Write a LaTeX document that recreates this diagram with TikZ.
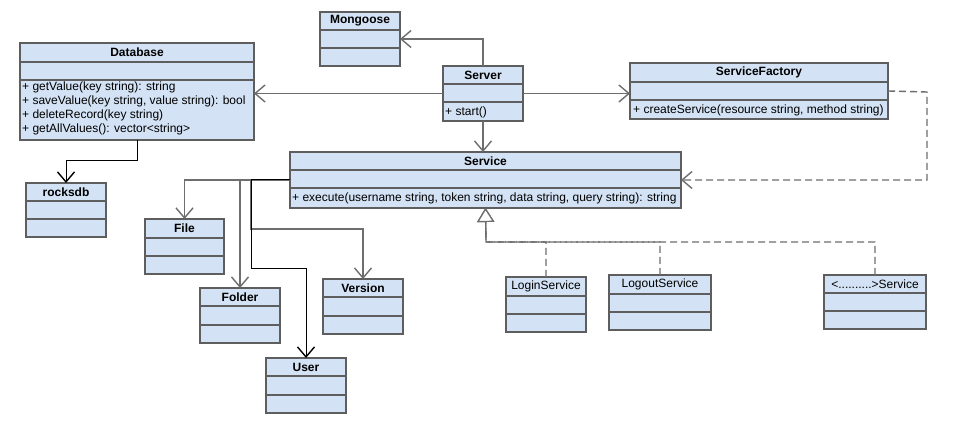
\documentclass[tikz,border=0pt]{standalone}
\usepackage{fontspec}
\setmainfont{Liberation Sans}
\usetikzlibrary{arrows.meta,fit,calc}
\definecolor{boxfill}{HTML}{D3E2F4}
\definecolor{boxline}{HTML}{5E5E5E}
\definecolor{conn}{HTML}{6E6E6E}
\tikzset{
  x=1pt, y=-1pt,
  clsbox/.style={draw=boxline, fill=boxfill, line width=2pt, inner sep=0pt, outer sep=0pt},
  divider/.style={draw=boxline, line width=2pt},
  ttl/.style={font=\fontsize{12}{14}\selectfont\bfseries, inner sep=0pt},
  ttlplain/.style={font=\fontsize{12}{14}\selectfont, inner sep=0pt},
  meth/.style={font=\fontsize{12}{14}\selectfont, inner sep=0pt, align=left, anchor=west},
  assoc/.style={draw=conn, line width=1.4pt, -{Straight Barb[length=10pt,width=17pt,line width=1.4pt]}},
  assocblk/.style={assoc, draw=black, line width=1pt},
  depend/.style={assoc, dash pattern=on 7pt off 4pt},
  realize/.style={draw=conn, line width=1.4pt, dash pattern=on 7pt off 4pt, -{Triangle[length=14pt,width=17pt,open,fill=white,line width=1.2pt]}},
}
% #1 name, #2 x1, #3 y1, #4 x2, #5 y2, #6 title bottom, #7 attr bottom, #8 title style, #9 title
\newcommand\umlcls[9]{%
  \node[clsbox, fit={(#2,#3) (#4,#5)}] (#1) {};
  \draw[divider] (#2,#6) -- (#4,#6);
  \draw[divider] (#2,#7) -- (#4,#7);
  \node[#8] (#1-t) at ({(#2+#4)/2},{(#3+#6)/2}) {#9};
}
\begin{document}
\begin{tikzpicture}
\useasboundingbox[fill=white] (0,0) rectangle (958,435);

% classes
\umlcls{db}{20}{43}{254}{140}{62}{80}{ttl}{Database}
\umlcls{mongoose}{320}{12}{400}{66}{30}{48}{ttl}{Mongoose}
\umlcls{server}{443}{66}{523}{121}{84}{102}{ttl}{Server}
\umlcls{sf}{630}{63}{888}{119}{82}{100}{ttl}{ServiceFactory}
\umlcls{service}{290}{152}{681}{208}{170}{188}{ttl}{Service}
\umlcls{rocks}{26}{183}{106}{237}{201}{219}{ttl}{rocksdb}
\umlcls{file}{145}{219}{224}{274}{238}{256}{ttl}{File}
\umlcls{folder}{200}{288}{280}{343}{306}{325}{ttl}{Folder}
\umlcls{version}{323}{279}{403}{334}{297}{316}{ttl}{Version}
\umlcls{user}{266}{358}{346}{413}{376}{395}{ttl}{User}
\umlcls{login}{506}{277}{586}{332}{296}{314}{ttlplain}{LoginService}
\umlcls{logout}{609}{275}{711}{330}{294}{312}{ttlplain}{LogoutService}
\umlcls{other}{824}{275}{926}{329}{293}{311}{ttlplain}{<..........>Service}

% methods
\node[meth, anchor=north west] (db-m) at (22,82) {+ getValue(key string): string\\+ saveValue(key string, value string): bool\\+ deleteRecord(key string)\\+ getAllValues(): vector<string>};
\node[meth] (server-m) at (445,112) {+ start()};
\node[meth] (sf-m) at (633,110) {+ createService(resource string, method string)};
\node[meth] (service-m) at (292,198.5) {+ execute(username string, token string, data string, query string): string};

% junction coordinates
\coordinate (sfc) at (927,92);
\coordinate (jv) at (251,229);
\coordinate (ju) at (251,269);
\coordinate (r) at (486,242);

% connectors
\draw[assoc] (server.north) |- (mongoose.east);
\draw[assoc] (server.west) -- (server.west -| db.east);
\draw[assoc] (server.east) -- (server.east -| sf.west);
\draw[assoc] (server.south) -- (server.south |- service.north);
\draw[depend] (sf.east) -- (sfc) |- (service.east);
\draw[assocblk] (db.south) -- ++(0,21) -| (rocks.north);
\draw[assoc] (service.west) -| (file.north);
\draw[assoc] (service.west) -| (folder.north);
\draw[assoc] (service.west) -| (jv) -| (version.north);
\draw[assocblk] (service.west) -| (ju) -| (user.north);
\draw[realize] (login.north) |- (r) -- (service.south);
\draw[realize] (logout.north) |- (r) -- (service.south);
\draw[realize] (other.north) |- (r) -- (service.south);
\end{tikzpicture}
\end{document}
